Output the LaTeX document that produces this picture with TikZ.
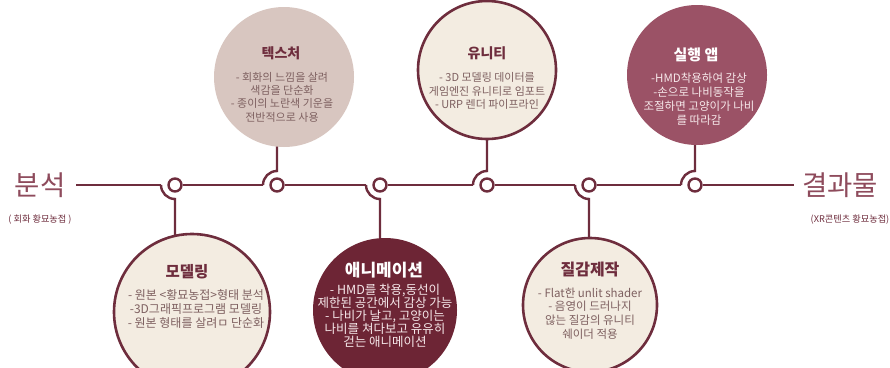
\documentclass[tikz,border=0pt]{standalone}
\usepackage{fontspec}
\setmainfont{Noto Sans CJK KR}
\usetikzlibrary{calc,backgrounds}
\definecolor{maroon}{HTML}{6E2D3D}
\definecolor{cream}{HTML}{F3ECE1}
\definecolor{texfill}{HTML}{D8C6C0}
\definecolor{appfill}{HTML}{9B5266}
\definecolor{animfill}{HTML}{6D2535}
\definecolor{bodytxt}{HTML}{7E6060}
\definecolor{labtxt}{HTML}{8E4B5C}
\definecolor{lighttxt}{HTML}{F6E8EA}
\begin{document}
\begin{tikzpicture}[x=1pt,y=-1pt,
  line/.style={draw=maroon, line width=2.4pt},
  dot/.style={circle, draw=maroon, line width=2.4pt, fill=white, minimum size=13pt, inner sep=0pt},
  bigc/.style={circle, inner sep=0pt, minimum size=#1},
  lightc/.style={fill=cream, draw=maroon, line width=2.6pt},
  head/.style={font=\fontsize{#1}{#1}\selectfont\bfseries, inner sep=0pt},
  body/.style args={#1/#2}{font=\fontsize{#1}{#2}\selectfont, align=center, inner sep=0pt},
  biglab/.style={font=\fontsize{27.5}{27.5}\selectfont, text=labtxt, inner sep=0pt},
  smalllab/.style={font=\fontsize{9.2}{9.2}\selectfont, text=maroon, inner sep=0pt}]
\useasboundingbox (0,0) rectangle (890,367);

% big circles
\node[bigc=156pt, lightc] (c1) at (192,312) {};
\node[bigc=140pt, fill=texfill] (c2) at (284,77) {};
\node[bigc=144pt, fill=animfill] (c3) at (385,310) {};
\node[bigc=138pt, lightc] (c4) at (487,70) {};
\node[bigc=134pt, lightc] (c5) at (590,305) {};
\node[bigc=140pt, fill=appfill] (c6) at (697,75) {};

% small dots on the timeline
\node[dot] (d1) at (175,185) {};
\node[dot] (d2) at (277,185) {};
\node[dot] (d3) at (380,185) {};
\node[dot] (d4) at (487,185) {};
\node[dot] (d5) at (589,185) {};
\node[dot] (d6) at (695,185) {};

% end labels
\node[biglab] (l1) at (40,185) {분석};
\node[smalllab] (s1) at (40,220) {( 회화 황묘농접 )};
\node[biglab] (l2) at (840,185) {결과물};
\node[smalllab] (s2) at (850,220) {(XR콘텐츠 황묘농접)};
\coordinate (st) at (76,185);
\coordinate (en) at (794,185);

\begin{scope}[on background layer]
  \draw[line] (st) -- ([xshift=-14pt]d1.center);
  \draw[line] (d1.east) -- ([xshift=-14pt]d2.center);
  \draw[line] (d2.east) -- ([xshift=-14pt]d3.center);
  \draw[line] (d3.east) -- ([xshift=-14pt]d4.center);
  \draw[line] (d4.east) -- ([xshift=-14pt]d5.center);
  \draw[line] (d5.east) -- ([xshift=-14pt]d6.center);
  \draw[line] (d6.east) -- (en);
  % bottom connectors
  \draw[line] ([xshift=-14pt]d1.center) arc[start angle=180,end angle=90,radius=14] -- (d1 |- c1.center);
  \draw[line] ([xshift=-14pt]d3.center) arc[start angle=180,end angle=90,radius=14] -- (d3 |- c3.center);
  \draw[line] ([xshift=-14pt]d5.center) arc[start angle=180,end angle=90,radius=14] -- (d5 |- c5.center);
  % top connectors
  \draw[line] ([xshift=-14pt]d2.center) arc[start angle=180,end angle=270,radius=14] -- (d2 |- c2.center);
  \draw[line] ([xshift=-14pt]d4.center) arc[start angle=180,end angle=270,radius=14] -- (d4 |- c4.center);
  \draw[line] ([xshift=-14pt]d6.center) arc[start angle=180,end angle=270,radius=14] -- (d6 |- c6.center);
\end{scope}

% texts in circles
\node[head=15.5, text=maroon] (h1) at (187,272) {모델링};
\node[body=12/14, text=bodytxt] (b1) at (196,309) {- 원본 <황묘농접>형태 분석\\-3D그래픽프로그램 모델링\\- 원본 형태를 살려ㅁ 단순화};

\node[head=14, text=maroon] (h2) at (281,53) {텍스처};
\node[body=11/13.3, text=bodytxt] (b2) at (282,97) {- 회화의 느낌을 살려\\색감을 단순화\\- 종이의 노란색 기운을\\전반적으로 사용};

\node[head=17, text=white] (h3) at (384,270) {애니메이션};
\node[body=12.5/13.1, text=lighttxt] (b3) at (385,316) {- HMD를 착용,동선이\\제한된 공간에서 감상 가능\\- 나비가 날고, 고양이는\\나비를 쳐다보고 유유히\\걷는 애니메이션};

\node[head=14, text=maroon] (h4) at (487,53) {유니티};
\node[body=11/13.2, text=bodytxt] (b4) at (487,91) {- 3D 모델링 데이터를\\게임엔진 유니티로 임포트\\- URP 렌더 파이프라인};

\node[head=16, text=maroon] (h5) at (590,270) {질감제작};
\node[body=11.5/13.7, text=bodytxt] (b5) at (590,313.5) {- Flat한 unlit shader\\- 음영이 드러나지\\않는 질감의 유니티\\쉐이더 적용};

\node[head=15, text=white] (h6) at (696,55) {실행 앱};
\node[body=11.5/14, text=lighttxt] (b6) at (699,99) {-HMD착용하여 감상\\-손으로 나비동작을\\조절하면 고양이가 나비\\를 따라감};
\end{tikzpicture}
\end{document}
